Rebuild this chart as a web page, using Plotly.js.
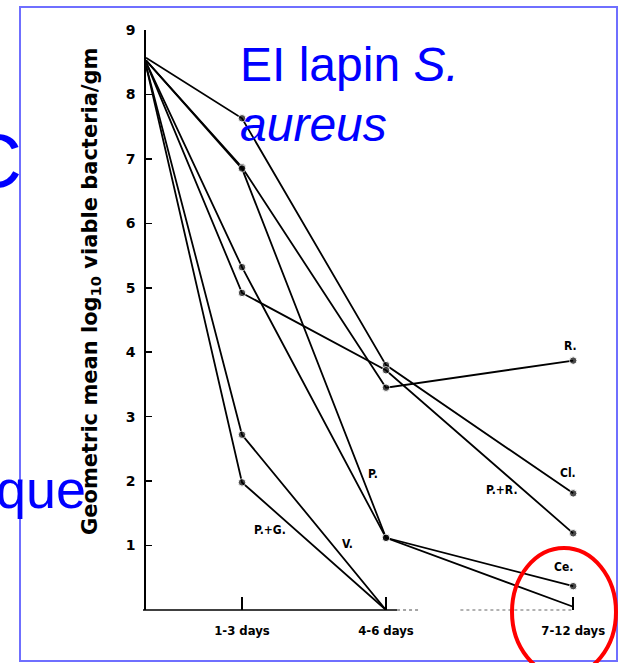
<!DOCTYPE html>
<html>
<head>
<meta charset="utf-8">
<script src="https://cdn.plot.ly/plotly-3.0.1.min.js"></script>
<style>
html,body{margin:0;padding:0;background:#fff;}
#chart{width:619px;height:663px;}
</style>
</head>
<body>
<div id="chart"></div>
<script>
// ---- data ----
const periods = ['start', '1-3 days', '4-6 days', '7-12 days'];
const periodDay = [0, 2, 5, 8.9];
const seriesNames = ['Cl.', 'R.', 'P.+R.', 'P.', 'Ce.', 'V.', 'P.+G.'];
const clValues = [8.57, 7.63, 3.80, 1.81];
const rValues = [8.53, 6.87, 3.45, 3.87];
const prValues = [8.50, 4.92, 3.72, 1.19];
const pValues = [8.53, 6.85, 1.12, 0.05];
const ceValues = [8.50, 5.32, 1.12, 0.37];
const vValues = [8.45, 2.72, 0.00];
const pgValues = [8.45, 1.98, 0.00];
const yTickValues = [1, 2, 3, 4, 5, 6, 7, 8, 9];

// ---- geometry helpers ----
const W = 619, H = 663, L = 146, T = 30, B = 53, R = 19;
const PW = W - L - R, PH = H - T - B;
const px = v => (v - L) / PW;          // pixel x -> paper x
const py = v => (H - B - v) / PH;      // pixel y -> paper y
const dayPerPx = 1 / 48;

const allSeries = [clValues, rValues, prValues, pValues, ceValues, vValues, pgValues];
const traces = allSeries.map((vals, k) => ({
  type: 'scatter',
  mode: 'lines+markers',
  name: seriesNames[k],
  x: periodDay.slice(0, vals.length),
  y: vals,
  line: {color: '#000', width: 1.8},
  marker: {color: '#000', size: vals.map((v, i) => (i === 0 || v <= 0.06) ? 0 : 7.5)},
  cliponaxis: false,
  showlegend: false,
  hoverinfo: 'skip'
}));

const lblFont = {family: 'DejaVu Sans Condensed, DejaVu Sans', size: 12, color: '#000', weight: 'bold'};
const seriesLabelPos = {
  'R.': [570, 346], 'Cl.': [568, 473], 'P.+R.': [502, 490], 'Ce.': [563, 567],
  'P.': [373, 474], 'V.': [347, 544], 'P.+G.': [270, 530]
};
const annotations = seriesNames.map(n => ({
  xref: 'paper', yref: 'paper', x: px(seriesLabelPos[n][0]), y: py(seriesLabelPos[n][1]),
  text: n, showarrow: false, font: lblFont, xanchor: 'center', yanchor: 'middle'
}));

annotations.push({
  xref: 'paper', yref: 'paper', x: px(91), y: py(292), textangle: -90,
  text: 'Geometric mean log<sub>10</sub> viable bacteria/gm', showarrow: false,
  font: {family: 'DejaVu Sans', size: 21, color: '#000', weight: 'bold'},
  xanchor: 'center', yanchor: 'middle'
});

const blueFont = {family: 'Liberation Sans, Arial', size: 48, color: '#0000FF'};
annotations.push({
  xref: 'paper', yref: 'paper', x: px(238), y: py(65), xanchor: 'left', yanchor: 'middle',
  text: 'EI lapin <i>S.</i>', showarrow: false, font: blueFont
});
annotations.push({
  xref: 'paper', yref: 'paper', x: px(238), y: py(124), xanchor: 'left', yanchor: 'middle',
  text: '<i>aureus</i>', showarrow: false, font: blueFont
});
annotations.push({
  xref: 'paper', yref: 'paper', x: px(24), y: py(160), xanchor: 'right', yanchor: 'middle',
  text: 'C', showarrow: false, font: {family: 'Liberation Sans, Arial', size: 76, color: '#0000FF'}
});
annotations.push({
  xref: 'paper', yref: 'paper', x: px(88), y: py(489), xanchor: 'right', yanchor: 'middle',
  text: 'que', showarrow: false, font: {family: 'Liberation Sans, Arial', size: 54, color: '#0000FF'}
});

const dx = d => px(L + d * 48);
const shapes = [
  {type: 'line', xref: 'paper', yref: 'paper', x0: px(143), x1: dx(5.23), y0: py(610), y1: py(610),
   line: {color: '#000', width: 1.6}},
  {type: 'line', xref: 'paper', yref: 'paper', x0: dx(5.23), x1: dx(5.7), y0: py(610), y1: py(610),
   line: {color: '#888', width: 1.4, dash: 'dot'}},
  {type: 'line', xref: 'paper', yref: 'paper', x0: dx(6.55), x1: dx(8.9), y0: py(610), y1: py(610),
   line: {color: '#999', width: 1.6, dash: 'dot'}},
  {type: 'rect', xref: 'paper', yref: 'paper', x0: px(20), x1: px(617), y0: py(661), y1: py(7),
   line: {color: '#6F6FFF', width: 2}},
  {type: 'circle', xref: 'paper', yref: 'paper', x0: px(512), x1: px(616), y0: py(676), y1: py(548),
   line: {color: '#FF0000', width: 4}}
];

const layout = {
  width: W, height: H,
  margin: {l: L, r: R, t: T, b: B},
  paper_bgcolor: '#fff', plot_bgcolor: 'rgba(0,0,0,0)',
  xaxis: {
    range: [0, PW * dayPerPx], showgrid: false, zeroline: false, showline: false,
    ticks: 'inside', ticklen: 13, tickwidth: 1.5, tickcolor: '#000',
    tickvals: periodDay.slice(1), ticktext: periods.slice(1),
    tickfont: {family: 'DejaVu Sans Condensed, DejaVu Sans', size: 13, color: '#000', weight: 'bold'},
    ticklabelstandoff: 11, fixedrange: true
  },
  yaxis: {
    range: [0, 9], showgrid: false, zeroline: false, showline: true,
    linecolor: '#000', linewidth: 1.6,
    ticks: 'inside', ticklen: 6, tickwidth: 1.5, tickcolor: '#000',
    tickvals: yTickValues, ticktext: yTickValues.map(String),
    tickfont: {family: 'DejaVu Sans', size: 14, color: '#000', weight: 'bold'},
    ticklabelstandoff: 6, fixedrange: true
  },
  annotations: annotations,
  shapes: shapes,
  showlegend: false
};

Plotly.newPlot('chart', traces, layout, {displayModeBar: false, staticPlot: true});
</script>
</body>
</html>
